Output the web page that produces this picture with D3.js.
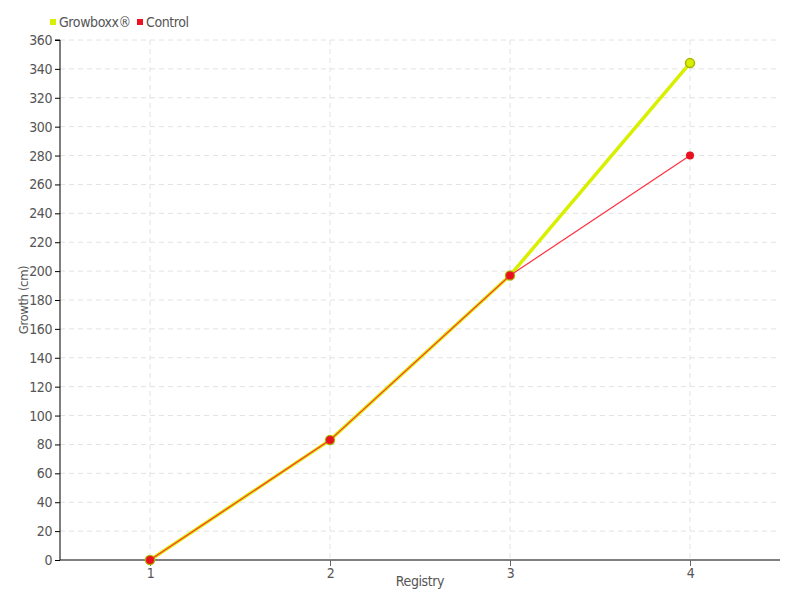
<!DOCTYPE html>
<html><head><meta charset="utf-8">
<script src="https://cdn.jsdelivr.net/npm/d3@7"></script>
<style>body{margin:0;background:#fff}svg{display:block}text{font-family:"DejaVu Sans Condensed","DejaVu Sans",sans-serif;fill:#555;letter-spacing:-0.4px}</style>
</head><body>
<svg id="c" width="800" height="600"></svg>
<script>
const registry = [1, 2, 3, 4];
const growboxx = [0, 83, 197, 344];
const control = [0, 83, 197, 280];
const yTicks = d3.range(0, 361, 20);
const seriesNames = ["Growboxx®", "Control"];

const svg = d3.select("#c");
const m = {l: 60, r: 20, t: 40, b: 40};
const W = 800, H = 600;
const x = d3.scaleLinear().domain([0.5, 4.5]).range([m.l, W - m.r]);
const y = d3.scaleLinear().domain([0, 360]).range([H - m.b, m.t]);

// grid
svg.append("g").selectAll("line").data(yTicks.filter(d => d > 0)).join("line")
  .attr("x1", m.l).attr("x2", W - m.r).attr("y1", d => y(d)).attr("y2", d => y(d))
  .attr("stroke", "#e2e2e2").attr("stroke-dasharray", "5,4");
svg.append("g").selectAll("line").data(registry).join("line")
  .attr("x1", d => x(d)).attr("x2", d => x(d)).attr("y1", m.t).attr("y2", H - m.b)
  .attr("stroke", "#e2e2e2").attr("stroke-dasharray", "5,4");

// axes
const ya = svg.append("g").attr("transform", `translate(${m.l},0)`)
  .call(d3.axisLeft(y).tickValues(yTicks).tickSize(5).tickPadding(3).tickFormat(d3.format("d")));
ya.select(".domain").attr("stroke", "#000").attr("d", `M-5,${y(360)}H0V${y(0)}`);
ya.selectAll(".tick line").attr("stroke", "#000");
ya.selectAll("text").style("font-size", "14px").attr("fill", "#555");

const xa = svg.append("g").attr("transform", `translate(0,${H - m.b})`)
  .call(d3.axisBottom(x).tickValues(registry).tickSize(6).tickPadding(2).tickFormat(d3.format("d")));
xa.select(".domain").attr("stroke", "#000").attr("d", `M${m.l},0H${W - m.r}`);
xa.selectAll(".tick line").attr("stroke", "#666");
xa.selectAll("text").style("font-size", "14px").attr("fill", "#555");

// axis titles
svg.append("text").attr("transform", `translate(28,${(m.t + H - m.b) / 2}) rotate(-90)`)
  .attr("text-anchor", "middle").style("font-size", "13px").text("Growth (cm)");
svg.append("text").attr("x", 420).attr("y", 586).attr("text-anchor", "middle")
  .style("font-size", "14px").text("Registry");

const line = d3.line().x((d, i) => x(registry[i])).y(d => y(d));

// Growboxx
svg.append("path").datum(growboxx).attr("d", line).attr("fill", "none")
  .attr("stroke", "#d8f000").attr("stroke-width", 3.5);
svg.append("g").selectAll("circle").data(growboxx).join("circle")
  .attr("cx", (d, i) => x(registry[i])).attr("cy", d => y(d)).attr("r", 4.5)
  .attr("fill", "#d8f000").attr("stroke", "#a8b400").attr("stroke-width", 1.5);

// Control
svg.append("path").datum(control).attr("d", line).attr("fill", "none")
  .attr("stroke", "#ff3040").attr("stroke-width", 1.2);
svg.append("g").selectAll("circle").data(control).join("circle")
  .attr("cx", (d, i) => x(registry[i])).attr("cy", d => y(d)).attr("r", 4)
  .attr("fill", "#e8101e");

// legend
const colors = ["#d8f000", "#ee1122"];
const lg = svg.append("g");
const lx = [50, 137];
seriesNames.forEach((n, i) => {
  lg.append("rect").attr("x", lx[i]).attr("y", 19).attr("width", 6).attr("height", 6).attr("fill", colors[i]);
  lg.append("text").attr("x", lx[i] + 9).attr("y", 27).style("font-size", "14px").text(n);
});
</script>
</body></html>
